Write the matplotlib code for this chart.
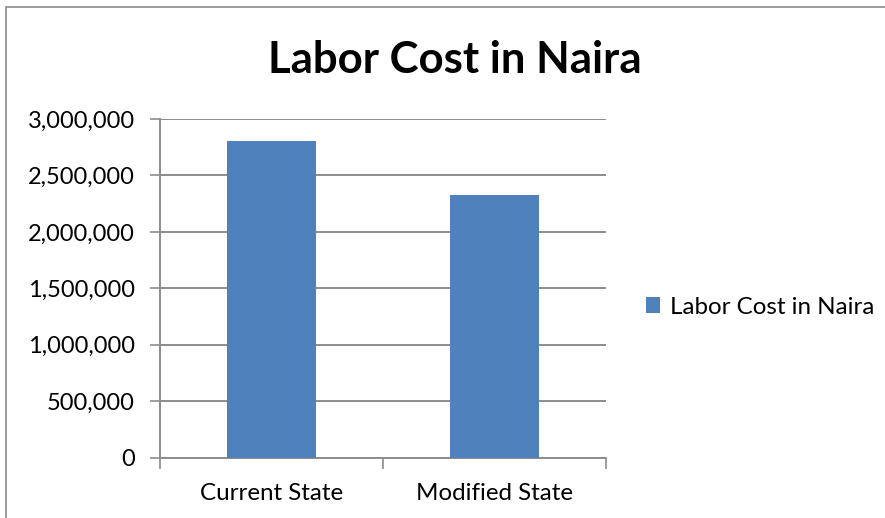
import numpy as np
import matplotlib
matplotlib.use("Agg")
import matplotlib.pyplot as plt
from matplotlib.patches import Rectangle
from matplotlib.ticker import FuncFormatter

categories = ["Current State", "Modified State"]
labor_cost = [2805000, 2324000]
series_name = "Labor Cost in Naira"
y_ticks = [0, 500000, 1000000, 1500000, 2000000, 2500000, 3000000]

plt.rcParams["font.family"] = ["Lato", "DejaVu Sans"]
GRID = "#8c8c8c"
BLUE = "#4f81bd"

fig = plt.figure(figsize=(8.85, 5.18), dpi=100)
# outer chart border
fig.patches.append(Rectangle((6 / 885, -0.01), 1.02, 1 - 7 / 518 + 0.01,
                             transform=fig.transFigure, fill=False,
                             edgecolor="#8a8a8a", linewidth=1.2))

ax = fig.add_axes([160 / 885, 1 - 457.7 / 518, 446 / 885, 338.7 / 518])
x = np.arange(len(categories))
ax.bar(x, labor_cost, width=0.4, color=BLUE, label=series_name, zorder=3)
ax.set_xlim(-0.5, 1.5)
ax.set_ylim(0, 3000000)
ax.set_yticks(y_ticks)
ax.yaxis.set_major_formatter(FuncFormatter(lambda v, p: "{:,.0f}".format(v)))
ax.set_xticks(x)
ax.set_xticklabels(categories)
ax.set_xticks([-0.5, 0.5, 1.5], minor=True)
ax.tick_params(axis="x", which="major", length=0, pad=18.5, labelsize=17.4)
ax.tick_params(axis="x", which="minor", length=8, width=1.2, color=GRID)
ax.tick_params(axis="y", length=7, width=1.2, color=GRID, labelsize=17, pad=11)
ax.yaxis.grid(True, color=GRID, linewidth=1.4, zorder=0)
for s in ("top", "right"):
    ax.spines[s].set_visible(False)
for s in ("left", "bottom"):
    ax.spines[s].set_color(GRID)
    ax.spines[s].set_linewidth(1.4)

fig.text(455 / 885, 1 - 60 / 518, "Labor Cost in Naira", ha="center", va="center",
         fontsize=31.5, fontweight="bold")
fig.legend(loc="center left", bbox_to_anchor=(624 / 885, 1 - 307 / 518),
           frameon=False, fontsize=17.4, handlelength=0.6, handleheight=0.6,
           handletextpad=0.4)

fig.savefig("out.png", dpi=100)
